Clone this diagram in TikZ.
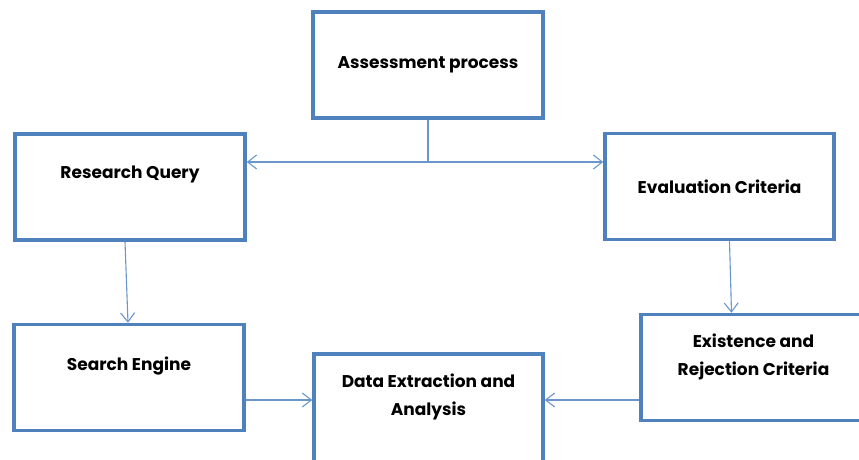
\documentclass[tikz,border=0pt]{standalone}
\usepackage{fontspec}
\setmainfont{Poppins}
\usetikzlibrary{arrows.meta,positioning}
\definecolor{boxblue}{HTML}{4F81BD}
\definecolor{lineblue}{HTML}{6A96CC}

\begin{document}
\begin{tikzpicture}[
  x=1pt, y=-1pt,
  font=\bfseries\fontsize{17}{28}\selectfont,
  box/.style={draw=boxblue,line width=3.5pt,align=center,minimum width=230pt,
    minimum height=106pt,inner sep=0pt,fill=white},
  lift/.style={text depth=#1},
  arrow/.style={-{Straight Barb[length=9pt,width=14pt]},draw=lineblue,line width=1.1pt}
]
\useasboundingbox (0,0) rectangle (859,460);

\node[box] (assess) at (428,65) {Assessment process};
\node[box,lift=30pt] (query) at (130,187) {Research Query};
\node[box,minimum width=229pt] (eval) at (719.5,186.5) {Evaluation Criteria};
\node[box,lift=27pt] (engine) at (129,377.5) {Search Engine};
\node[box,minimum width=229pt,minimum height=112pt,lift=30pt] (data) at (428.5,410)
  {Data Extraction and\\Analysis};
\node[box,minimum width=225pt,lift=26pt] (exist) at (753.5,367.5)
  {Existence and\\Rejection Criteria};

\coordinate (split) at (428,162);
\draw[draw=lineblue,line width=1.1pt] (assess.south) -- (split);
\draw[arrow] (split) -- (query.east |- split);
\draw[arrow] (split) -- (eval.west |- split);
\draw[arrow] ([xshift=-5pt]query.south) -- ([xshift=-1pt]engine.north);
\draw[arrow] ([xshift=10pt]eval.south) -- ([xshift=-22pt]exist.north);
\draw[arrow] (engine.east |- 0,400) -- (data.west |- 0,400);
\draw[arrow] (exist.west |- 0,400) -- (data.east |- 0,400);
\end{tikzpicture}
\end{document}
